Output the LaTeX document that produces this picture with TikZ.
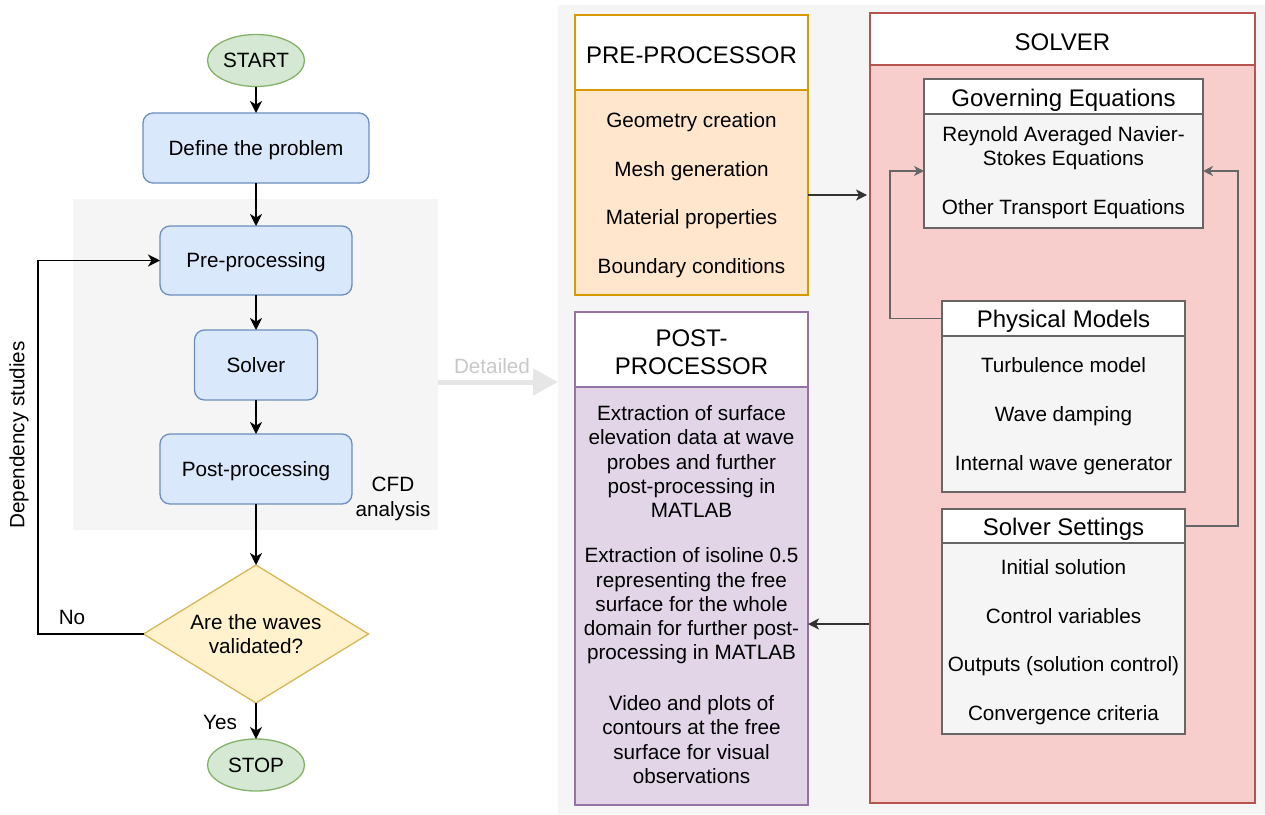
\documentclass[tikz,border=0pt]{standalone}
\usepackage{fontspec}
\setmainfont{Liberation Sans}
\usetikzlibrary{shapes.geometric,arrows.meta,calc}
\definecolor{gfill}{HTML}{D5E8D4}\definecolor{gdraw}{HTML}{82B366}
\definecolor{bfill}{HTML}{DAE8FC}\definecolor{bdraw}{HTML}{6C8EBF}
\definecolor{yfill}{HTML}{FFF2CC}\definecolor{ydraw}{HTML}{D6B656}
\definecolor{ofill}{HTML}{FFE6CC}\definecolor{odraw}{HTML}{D79B00}
\definecolor{rfill}{HTML}{F8CECC}\definecolor{rdraw}{HTML}{B85450}
\definecolor{pfill}{HTML}{E1D5E7}\definecolor{pdraw}{HTML}{9673A6}
\definecolor{sfill}{HTML}{F5F5F5}\definecolor{sdraw}{HTML}{666666}
\definecolor{bgc}{HTML}{F5F5F5}
\definecolor{darr}{HTML}{333333}
\definecolor{detc}{HTML}{E6E6E6}
\definecolor{dett}{HTML}{C8C8C8}
\newcommand{\bodyf}{\fontsize{20.7}{24.3}\selectfont}
\newcommand{\headf}{\fontsize{24}{28}\selectfont}
\begin{document}
\begin{tikzpicture}[x=1pt,y=-1pt,
  every node/.style={inner sep=0pt, outer sep=0pt, text=black},
  one/.style={text height=14.8pt, text depth=0pt},
  bgbox/.style={fill=bgc, draw=none},
  flow/.style={one, draw=bdraw, fill=bfill, rounded corners=10pt, line width=1.3pt, font=\bodyf},
  term/.style={one, ellipse, draw=gdraw, fill=gfill, line width=1.3pt, font=\bodyf, minimum width=97pt, minimum height=52pt},
  decis/.style={diamond, draw=ydraw, fill=yfill, line width=1.3pt, font=\bodyf, align=center, minimum width=225pt, minimum height=138pt, shape aspect=1.63},
  arr/.style={-{Stealth[length=12pt,width=12pt,inset=3.5pt]}, line width=1.5pt, black},
  darrow/.style={-{Stealth[length=11pt,width=11pt,inset=3pt]}, line width=1.4pt, darr},
  garrow/.style={-{Stealth[length=10pt,width=10pt,inset=3pt]}, line width=1.4pt, sdraw},
  outerbox/.style={draw, line width=2pt},
  subbox/.style={draw=sdraw, fill=sfill, line width=1.5pt},
  hdr/.style={draw, fill=white, font=\headf, text depth=0pt},
  lbl/.style={one, font=\bodyf},
  mlbl/.style={font=\bodyf, align=center}
]
\useasboundingbox (0,0) rectangle (1265,814);
% backgrounds
\node[bgbox, minimum width=365pt, minimum height=331pt] (cfd) at (255.5,364.5) {};
\node[bgbox, minimum width=707pt, minimum height=809pt] (panel) at (911.5,409.5) {};

% left flowchart
\node[term] (start) at (256,60.5) {START};
\node[flow, minimum width=226pt, minimum height=70pt] (def) at (256,148) {Define the problem};
\node[flow, minimum width=192pt, minimum height=69pt] (pre) at (256,260.5) {Pre-processing};
\node[flow, minimum width=123pt, minimum height=70pt] (sol) at (256,365) {Solver};
\node[flow, minimum width=192pt, minimum height=70pt] (post) at (256,469) {Post-processing};
\node[decis] (dia) at (256,634) {Are the waves\\validated?};
\node[term] (stop) at (256,765) {STOP};
\node[mlbl] (cfdl) at (393,499) {CFD\\analysis};
\node[lbl] (nol) at (72,617) {No};
\node[lbl] (yesl) at (220,722) {Yes};
\node[mlbl, rotate=90] (dep) at (19,435) {Dependency studies};

\draw[arr] (start) -- (def);
\draw[arr] (def) -- (pre);
\draw[arr] (pre) -- (sol);
\draw[arr] (sol) -- (post);
\draw[arr] (post) -- (dia);
\draw[arr] (dia) -- (stop);
\coordinate (fb) at (38,0);
\draw[arr] (dia.west) -- (dia.west -| fb) |- (pre.west);

% Detailed arrow
\coordinate (dy) at (0,382);
\draw[line width=5pt, detc, -{Triangle[length=25pt,width=26pt]}] (cfd.east |- dy) -- (panel.west |- dy);
\node[lbl, text=dett] (detl) at (492,366) {Detailed};

% PRE-PROCESSOR
\node[outerbox, draw=odraw, fill=ofill, minimum width=233pt, minimum height=280pt] (prep) at (691.5,155) {};
\node[hdr, draw=odraw, line width=2pt, minimum width=233pt, minimum height=75pt, text height=22pt] (prepH) at (691.5,52.5) {PRE-PROCESSOR};
\node[lbl] (p1) at (691.5,120) {Geometry creation};
\node[lbl] (p2) at (691.5,169) {Mesh generation};
\node[lbl] (p3) at (691.5,217) {Material properties};
\node[lbl] (p4) at (691.5,266) {Boundary conditions};

% POST-PROCESSOR
\node[outerbox, draw=pdraw, fill=pfill, minimum width=233pt, minimum height=493pt] (postp) at (691.5,558.5) {};
\node[draw=pdraw, fill=white, line width=2pt, minimum width=233pt, minimum height=75pt] (postpH) at (691.5,349.5) {};
\node[mlbl, font=\headf] (postpT) at (691.5,352.5) {POST-\\PROCESSOR};
\node[mlbl] (q1) at (691.5,461.5) {Extraction of surface\\elevation data at wave\\probes and further\\post-processing in\\MATLAB};
\node[mlbl] (q2) at (691.5,606) {Extraction of isoline 0.5\\representing the free\\surface for the whole\\domain for further post-\\processing in MATLAB};
\node[mlbl] (q3) at (691.5,739.5) {Video and plots of\\contours at the free\\surface for visual\\observations};

% SOLVER
\node[outerbox, draw=rdraw, fill=rfill, minimum width=385pt, minimum height=790pt] (solv) at (1062.5,408) {};
\node[hdr, draw=rdraw, line width=2pt, minimum width=385pt, minimum height=52pt, text height=22pt] (solvH) at (1062.5,39) {SOLVER};

% Governing Equations
\node[subbox, minimum width=279pt, minimum height=149pt] (gov) at (1063.5,153.5) {};
\node[hdr, draw=sdraw, line width=1.5pt, minimum width=279pt, minimum height=35pt, text height=20pt] (govH) at (1063.5,96.5) {Governing Equations};
\node[mlbl] (g1) at (1063.5,148) {Reynold Averaged Navier-\\Stokes Equations};
\node[lbl] (g2) at (1063.5,207) {Other Transport Equations};

% Physical Models
\node[subbox, minimum width=243pt, minimum height=191pt] (phys) at (1063.5,396.5) {};
\node[hdr, draw=sdraw, line width=1.5pt, minimum width=243pt, minimum height=35pt, text height=18.5pt] (physH) at (1063.5,318.5) {Physical Models};
\node[lbl] (m1) at (1063.5,365) {Turbulence model};
\node[lbl] (m2) at (1063.5,414) {Wave damping};
\node[lbl] (m3) at (1063.5,463) {Internal wave generator};

% Solver Settings
\node[subbox, minimum width=243pt, minimum height=225pt] (ss) at (1063.5,621.5) {};
\node[hdr, draw=sdraw, line width=1.5pt, minimum width=243pt, minimum height=34pt, text height=19pt] (ssH) at (1063.5,526) {Solver Settings};
\node[lbl] (s1) at (1063.5,567) {Initial solution};
\node[lbl] (s2) at (1063.5,616) {Control variables};
\node[lbl] (s3) at (1063.5,664) {Outputs (solution control)};
\node[lbl] (s4) at (1063.5,713) {Convergence criteria};

% inner connectors
\coordinate (lp) at (890,171);
\coordinate (rp) at (1238,171);
\draw[garrow] (physH.west) -| (lp) -- (lp -| gov.west);
\draw[garrow] (ssH.east) -| (rp) -- (rp -| gov.east);

% pre -> solver, solver -> post
\coordinate (ya) at (0,195);
\coordinate (yb) at (0,624);
\draw[darrow] (prep.east |- ya) -- ($(solv.west |- ya)+(-3,0)$);
\draw[darrow] ($(solv.west |- yb)+(-1,0)$) -- (postp.east |- yb);
\end{tikzpicture}
\end{document}
